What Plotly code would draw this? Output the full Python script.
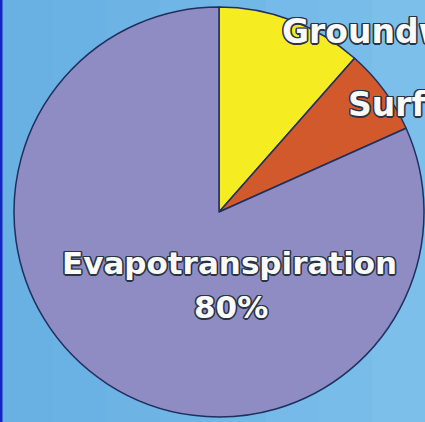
import plotly.graph_objects as go

# Data
labels = ["Groundwater", "Surface water", "Evapotranspiration"]
values = [11.5, 6.8, 81.7]
display_pct = ["", "", "80%"]
colors = ["#f6ec22", "#d2592b", "#8f8cc4"]

W, H = 425, 422

fig = go.Figure()
fig.add_trace(go.Pie(
    labels=labels,
    values=values,
    sort=False,
    direction="clockwise",
    rotation=0,
    textinfo="none",
    hoverinfo="label+percent",
    marker=dict(colors=colors, line=dict(color="#1f2f5e", width=1.5)),
    domain=dict(x=[14 / W, 424 / W], y=[1 - 417 / H, 1 - 7 / H]),
    showlegend=False,
))

oc = "#2a3346"
outline = (f"1.2px 1.2px 0 {oc}, -1.2px -1.2px 0 {oc}, 1.2px -1.2px 0 {oc}, "
           f"-1.2px 1.2px 0 {oc}, 0 1.5px 0 {oc}, 0 -1.5px 0 {oc}, "
           f"1.5px 0 0 {oc}, -1.5px 0 0 {oc}")
lab_font = dict(family="DejaVu Sans", size=31, weight="bold", color="#fbfbfb", shadow=outline)
top_font = dict(lab_font, size=33)

annotations = [
    dict(text=labels[0], x=280 / W, y=1 - 31 / H, xanchor="left", yanchor="middle", font=top_font),
    dict(text=labels[1], x=346 / W, y=1 - 105 / H, xanchor="left", yanchor="middle", font=top_font),
    dict(text=labels[2], x=230 / W, y=1 - 263 / H, xanchor="center", yanchor="middle", font=lab_font),
    dict(text=display_pct[2], x=231 / W, y=1 - 307 / H, xanchor="center", yanchor="middle", font=lab_font),
]
for a in annotations:
    a.update(xref="paper", yref="paper", showarrow=False)

# background gradient bands
bg_stops = ["#69b0e3", "#6bb2e4", "#6db4e5", "#6fb6e6", "#72b8e7", "#75bae8", "#78bce9", "#7cbfea"]
shapes = []
n = len(bg_stops)
for i, c in enumerate(bg_stops):
    shapes.append(dict(type="rect", xref="paper", yref="paper", x0=i / n, x1=(i + 1) / n + 0.002,
                       y0=0, y1=1, fillcolor=c, line=dict(width=0), layer="below"))
shapes.append(dict(type="rect", xref="paper", yref="paper", x0=0, x1=2.5 / W, y0=0, y1=1,
                   fillcolor="#1424c0", line=dict(width=0), layer="below"))

fig.update_layout(
    width=W, height=H,
    margin=dict(l=0, r=0, t=0, b=0),
    paper_bgcolor="#6db4e6",
    plot_bgcolor="#6db4e6",
    annotations=annotations,
    shapes=shapes,
)
fig.write_html("out.html")
